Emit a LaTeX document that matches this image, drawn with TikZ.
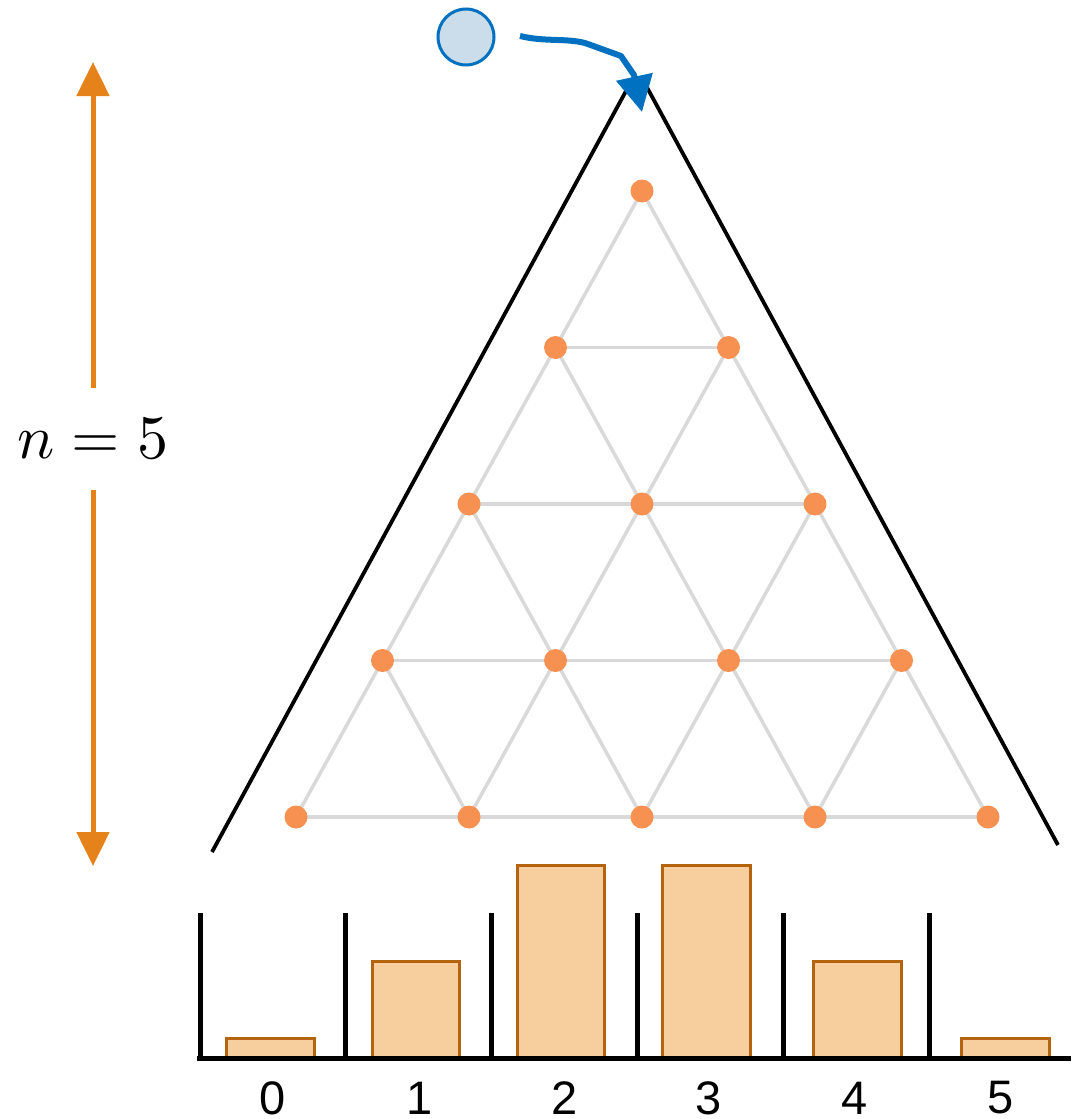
\documentclass[tikz,border=0pt]{standalone}
\usepackage{fontspec}
\usepackage{unicode-math}
\newfontfamily\labfont{Liberation Sans}
\usetikzlibrary{arrows.meta,backgrounds}
\definecolor{dotor}{HTML}{F79152}
\definecolor{latgrey}{HTML}{D9D9D9}
\definecolor{arrowor}{HTML}{E5831A}
\definecolor{barfill}{HTML}{F7CF9F}
\definecolor{barline}{HTML}{B4640F}
\definecolor{bblue}{HTML}{0070C0}
\definecolor{ballfill}{HTML}{CBDDEA}
\tikzset{
  dot/.style={circle,fill=dotor,draw=none,minimum size=23pt,inner sep=0pt},
  lattice/.style={draw=latgrey,line width=3.5pt},
  outline/.style={draw=black,line width=3.8pt},
  binline/.style={draw=black,line width=5pt},
  barbox/.style={fill=barfill,draw=barline,line width=3pt},
  ballnode/.style={circle,fill=ballfill,draw=bblue,line width=3pt,minimum size=56pt,inner sep=0pt},
  bluearrow/.style={draw=bblue,line width=6pt,line join=round,-{Triangle[length=36pt,width=36pt]}},
  orarrow/.style={draw=arrowor,line width=5pt,-{Triangle[length=34pt,width=32pt]}},
  binlabel/.style={font=\labfont\fontsize{47}{50}\selectfont,inner sep=0pt},
  nlab/.style={font=\fontsize{62}{70}\selectfont,inner sep=0pt,minimum height=102pt}
}
\begin{document}
\begin{tikzpicture}[x=1pt,y=-1pt]
\useasboundingbox (0,0) rectangle (1071,1119);

% lattice dots
\foreach \k in {0,...,4}{
  \foreach \j in {0,...,\k}{
    \node[dot] (d\k\j) at ({642+173*(\j-\k/2)},{191+156.5*\k}) {};
  }
}
% lattice edges
\begin{scope}[on background layer]
\foreach \k in {0,...,3}{
  \foreach \j in {0,...,\k}{
    \pgfmathtruncatemacro{\kn}{\k+1}
    \pgfmathtruncatemacro{\jn}{\j+1}
    \draw[lattice] (d\k\j.center) -- (d\kn\j.center);
    \draw[lattice] (d\k\j.center) -- (d\kn\jn.center);
  }
}
\foreach \k in {1,...,4}{
  \pgfmathtruncatemacro{\km}{\k-1}
  \foreach \j in {0,...,\km}{
    \pgfmathtruncatemacro{\jn}{\j+1}
    \draw[lattice] (d\k\j.center) -- (d\k\jn.center);
  }
}
\end{scope}

% triangle outline
\draw[outline] (212,852) -- (632,80);
\draw[outline] (643,80) -- (1058,845);

% ball and arrow
\node[ballnode] (ball) at (466,37) {};
\coordinate (bstart) at (520,36);
\coordinate (apextip) at (642,112);
\draw[bluearrow] (bstart) .. controls (545,42) and (565,38) .. (585,43) -- (621,56) -- (634,75) -- (apextip);

% n = 5 with double arrow
\node[nlab] (nlabel) at (93,439) {$n = 5$};
\coordinate (ntop) at (93,62);
\coordinate (nbot) at (93,866);
\draw[orarrow] (nlabel.north) -- (ntop);
\draw[orarrow] (nlabel.south) -- (nbot);

% bars
\draw[barbox] (226,1038) rectangle (314,1057);
\draw[barbox] (372,961) rectangle (459,1057);
\draw[barbox] (517,865) rectangle (604,1057);
\draw[barbox] (662,865) rectangle (750,1057);
\draw[barbox] (813,961) rectangle (901,1057);
\draw[barbox] (961,1038) rectangle (1049,1057);

% bins
\draw[binline] (197,1058) -- (1071,1058);
\foreach \x in {200,345.8,491.6,637.4,783.2,929}{
  \draw[binline] (\x,913) -- (\x,1060.5);
}

% labels
\node[binlabel] (l0) at (273,1098) {0};
\node[binlabel] (l1) at (420,1098) {1};
\node[binlabel] (l2) at (565,1098) {2};
\node[binlabel] (l3) at (709,1098) {3};
\node[binlabel] (l4) at (855,1098) {4};
\node[binlabel] (l5) at (1001,1098) {5};
\end{tikzpicture}
\end{document}
